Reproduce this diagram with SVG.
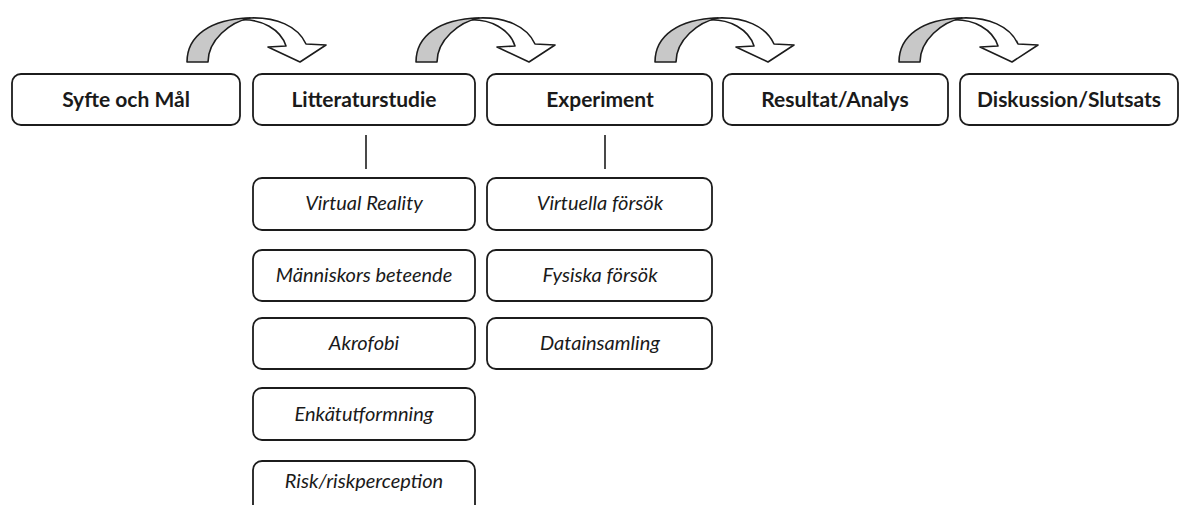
<svg xmlns="http://www.w3.org/2000/svg" xmlns:xlink="http://www.w3.org/1999/xlink" width="1183" height="505" viewBox="0 0 1183 505">
<style>
.box{fill:#fff;stroke:#1c1c1c;stroke-width:1.8}
.main{font-family:Lato,"Liberation Sans",sans-serif;font-weight:bold;font-size:21px;fill:#1a1a1a;text-anchor:middle}
.sub{font-family:Lato,"Liberation Sans",sans-serif;font-style:italic;font-size:20px;fill:#1a1a1a;text-anchor:middle}
.line{stroke:#1c1c1c;stroke-width:1.6;fill:none}
.ag{fill:#c8c8c8;stroke:#1c1c1c;stroke-width:1.6;stroke-linejoin:round}
.aw{fill:#fff;stroke:#1c1c1c;stroke-width:1.6;stroke-linejoin:round}
</style>
<defs>
<g id="curved-arrow">
<path class="aw" d="M238,20 C262,18 281,30 286,46 L268,47 L300,62 L326,45 L306,44 C298,26 276,17 250,18 C246,18 242,19 238,20 Z"/>
<path class="ag" d="M187,62 C187,36 210,19 250,18 C230,22 208,40 208,62 Z"/>
</g>
</defs>
<g id="connectors">
<use xlink:href="#curved-arrow"/>
<use xlink:href="#curved-arrow" transform="translate(229,0)"/>
<use xlink:href="#curved-arrow" transform="translate(468,0)"/>
<use xlink:href="#curved-arrow" transform="translate(712,0)"/>
<line class="line" x1="366" y1="135" x2="366" y2="169"/>
<line class="line" x1="605" y1="135" x2="605" y2="169"/>
</g>
<g id="n-syfte"><rect class="box" x="12" y="74" width="228" height="51" rx="9"/><text class="main" x="126" y="107">Syfte och Mål</text></g>
<g id="n-litteratur"><rect class="box" x="253" y="74" width="222" height="51" rx="9"/><text class="main" x="364" y="107">Litteraturstudie</text></g>
<g id="n-experiment"><rect class="box" x="487" y="74" width="225" height="51" rx="9"/><text class="main" x="600" y="107">Experiment</text></g>
<g id="n-resultat"><rect class="box" x="723" y="74" width="225" height="51" rx="9"/><text class="main" x="835" y="107">Resultat/Analys</text></g>
<g id="n-diskussion"><rect class="box" x="960" y="74" width="218" height="51" rx="9"/><text class="main" x="1069" y="107">Diskussion/Slutsats</text></g>
<g id="n-vr"><rect class="box" x="253" y="178" width="222" height="52" rx="9"/><text class="sub" x="364" y="210">Virtual Reality</text></g>
<g id="n-manniskor"><rect class="box" x="253" y="250" width="222" height="51" rx="9"/><text class="sub" x="364" y="282">Människors beteende</text></g>
<g id="n-akrofobi"><rect class="box" x="253" y="318" width="222" height="51" rx="9"/><text class="sub" x="364" y="350">Akrofobi</text></g>
<g id="n-enkat"><rect class="box" x="253" y="388" width="222" height="52" rx="9"/><text class="sub" x="364" y="421">Enkätutformning</text></g>
<g id="n-risk"><rect class="box" x="253" y="461" width="222" height="54" rx="9"/><text class="sub" x="364" y="488">Risk/riskperception</text></g>
<g id="n-virtuella"><rect class="box" x="487" y="178" width="225" height="52" rx="9"/><text class="sub" x="600" y="210">Virtuella försök</text></g>
<g id="n-fysiska"><rect class="box" x="487" y="250" width="225" height="51" rx="9"/><text class="sub" x="600" y="282">Fysiska försök</text></g>
<g id="n-data"><rect class="box" x="487" y="318" width="225" height="51" rx="9"/><text class="sub" x="600" y="350">Datainsamling</text></g>
</svg>
